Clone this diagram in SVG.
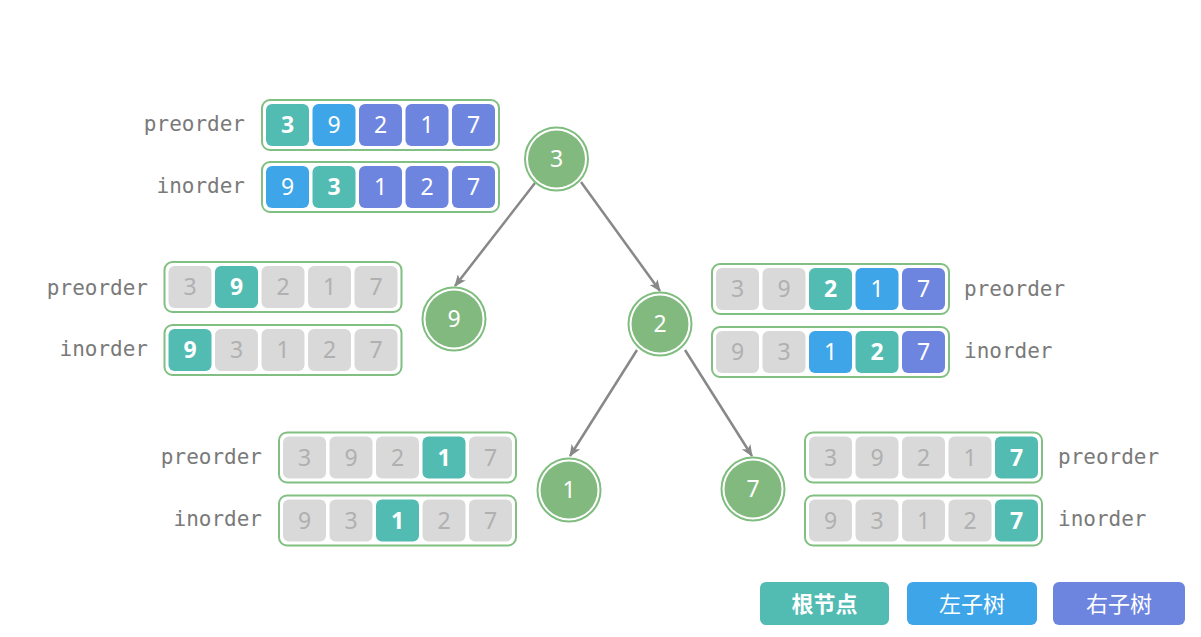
<svg xmlns="http://www.w3.org/2000/svg" width="1201" height="637" viewBox="0 0 1201 637">
<style>
.outer{fill:#fff;stroke:#82bf82;stroke-width:2}
.c{stroke:none}
.r{fill:#52bcb2}.l{fill:#3da5e8}.p{fill:#6d85df}.g{fill:#d9d9d9}
.d{font-family:"Noto Sans","Liberation Sans",sans-serif;font-size:23px;text-anchor:middle;fill:#fff}
.dg{fill:#b0b0b0}
.b{font-weight:bold}
.lab{font-family:"DejaVu Sans Mono","Liberation Mono",monospace;font-size:21px;fill:#7a7a7a}
.ring{fill:#fff;stroke:#7fbd7f;stroke-width:2}
.fill{fill:#82b97f}
.nt{font-family:"Noto Sans","Liberation Sans",sans-serif;font-size:23px;fill:#fff;text-anchor:middle}
.edge{stroke:#888;stroke-width:2.5;fill:none}
.leg{font-family:"Noto Sans CJK SC",sans-serif;font-size:22px;fill:#fff;text-anchor:middle}
</style>
<defs>
<marker id="ah" viewBox="0 0 12 10" refX="11" refY="5" markerWidth="12" markerHeight="10" markerUnits="userSpaceOnUse" orient="auto">
<path d="M0,0 L12,5 L0,10 L3,5 Z" fill="#888"/>
</marker>
</defs>
<rect width="1201" height="637" fill="#fff"/>

<g id="connectors">
<line class="edge" x1="535" y1="183" x2="455" y2="286" marker-end="url(#ah)"/>
<line class="edge" x1="581" y1="182" x2="660" y2="291" marker-end="url(#ah)"/>
<line class="edge" x1="637" y1="350" x2="570" y2="456" marker-end="url(#ah)"/>
<line class="edge" x1="685" y1="350" x2="752" y2="456" marker-end="url(#ah)"/>
</g>

<g id="node-3"><circle class="ring" cx="556.5" cy="159" r="31.5"/><circle class="fill" cx="556.5" cy="159" r="28.5"/><text class="nt" x="556.5" y="167">3</text></g>
<g id="node-9"><circle class="ring" cx="454" cy="319" r="31.5"/><circle class="fill" cx="454" cy="319" r="28.5"/><text class="nt" x="454" y="327">9</text></g>
<g id="node-2"><circle class="ring" cx="660" cy="324" r="31.5"/><circle class="fill" cx="660" cy="324" r="28.5"/><text class="nt" x="660" y="332">2</text></g>
<g id="node-1"><circle class="ring" cx="569" cy="490" r="31.5"/><circle class="fill" cx="569" cy="490" r="28.5"/><text class="nt" x="569" y="498">1</text></g>
<g id="node-7"><circle class="ring" cx="753" cy="489" r="31.5"/><circle class="fill" cx="753" cy="489" r="28.5"/><text class="nt" x="753" y="497">7</text></g>

<!-- Array A -->
<g id="arr-a-pre">
<text class="lab" x="245" y="131" text-anchor="end">preorder</text>
<rect class="outer" x="262" y="100" width="237" height="50" rx="8"/>
<rect class="c r" x="266" y="104" width="43" height="42" rx="6"/><text class="d b" x="287.5" y="133">3</text>
<rect class="c l" x="312.5" y="104" width="43" height="42" rx="6"/><text class="d" x="334" y="133">9</text>
<rect class="c p" x="359" y="104" width="43" height="42" rx="6"/><text class="d" x="380.5" y="133">2</text>
<rect class="c p" x="405.5" y="104" width="43" height="42" rx="6"/><text class="d" x="427" y="133">1</text>
<rect class="c p" x="452" y="104" width="43" height="42" rx="6"/><text class="d" x="473.5" y="133">7</text>
</g>
<g id="arr-a-in">
<text class="lab" x="245" y="193" text-anchor="end">inorder</text>
<rect class="outer" x="262" y="162" width="237" height="50" rx="8"/>
<rect class="c l" x="266" y="166" width="43" height="42" rx="6"/><text class="d" x="287.5" y="195">9</text>
<rect class="c r" x="312.5" y="166" width="43" height="42" rx="6"/><text class="d b" x="334" y="195">3</text>
<rect class="c p" x="359" y="166" width="43" height="42" rx="6"/><text class="d" x="380.5" y="195">1</text>
<rect class="c p" x="405.5" y="166" width="43" height="42" rx="6"/><text class="d" x="427" y="195">2</text>
<rect class="c p" x="452" y="166" width="43" height="42" rx="6"/><text class="d" x="473.5" y="195">7</text>
</g>

<!-- Array B -->
<g id="arr-b-pre">
<text class="lab" x="148" y="295" text-anchor="end">preorder</text>
<rect class="outer" x="164.5" y="262" width="237" height="50" rx="8"/>
<rect class="c g" x="168.5" y="266" width="43" height="42" rx="6"/><text class="d dg" x="190" y="295">3</text>
<rect class="c r" x="215" y="266" width="43" height="42" rx="6"/><text class="d b" x="236.5" y="295">9</text>
<rect class="c g" x="261.5" y="266" width="43" height="42" rx="6"/><text class="d dg" x="283" y="295">2</text>
<rect class="c g" x="308" y="266" width="43" height="42" rx="6"/><text class="d dg" x="329.5" y="295">1</text>
<rect class="c g" x="354.5" y="266" width="43" height="42" rx="6"/><text class="d dg" x="376" y="295">7</text>
</g>
<g id="arr-b-in">
<text class="lab" x="148" y="356" text-anchor="end">inorder</text>
<rect class="outer" x="164.5" y="325" width="237" height="50" rx="8"/>
<rect class="c r" x="168.5" y="329" width="43" height="42" rx="6"/><text class="d b" x="190" y="358">9</text>
<rect class="c g" x="215" y="329" width="43" height="42" rx="6"/><text class="d dg" x="236.5" y="358">3</text>
<rect class="c g" x="261.5" y="329" width="43" height="42" rx="6"/><text class="d dg" x="283" y="358">1</text>
<rect class="c g" x="308" y="329" width="43" height="42" rx="6"/><text class="d dg" x="329.5" y="358">2</text>
<rect class="c g" x="354.5" y="329" width="43" height="42" rx="6"/><text class="d dg" x="376" y="358">7</text>
</g>

<!-- Array C -->
<g id="arr-c-pre">
<text class="lab" x="964" y="296">preorder</text>
<rect class="outer" x="712" y="264" width="237" height="50" rx="8"/>
<rect class="c g" x="716" y="268" width="43" height="42" rx="6"/><text class="d dg" x="737.5" y="297">3</text>
<rect class="c g" x="762.5" y="268" width="43" height="42" rx="6"/><text class="d dg" x="784" y="297">9</text>
<rect class="c r" x="809" y="268" width="43" height="42" rx="6"/><text class="d b" x="830.5" y="297">2</text>
<rect class="c l" x="855.5" y="268" width="43" height="42" rx="6"/><text class="d" x="877" y="297">1</text>
<rect class="c p" x="902" y="268" width="43" height="42" rx="6"/><text class="d" x="923.5" y="297">7</text>
</g>
<g id="arr-c-in">
<text class="lab" x="964" y="358">inorder</text>
<rect class="outer" x="712" y="327" width="237" height="50" rx="8"/>
<rect class="c g" x="716" y="331" width="43" height="42" rx="6"/><text class="d dg" x="737.5" y="360">9</text>
<rect class="c g" x="762.5" y="331" width="43" height="42" rx="6"/><text class="d dg" x="784" y="360">3</text>
<rect class="c l" x="809" y="331" width="43" height="42" rx="6"/><text class="d" x="830.5" y="360">1</text>
<rect class="c r" x="855.5" y="331" width="43" height="42" rx="6"/><text class="d b" x="877" y="360">2</text>
<rect class="c p" x="902" y="331" width="43" height="42" rx="6"/><text class="d" x="923.5" y="360">7</text>
</g>

<!-- Array D -->
<g id="arr-d-pre">
<text class="lab" x="262" y="464" text-anchor="end">preorder</text>
<rect class="outer" x="279" y="432.5" width="237" height="50" rx="8"/>
<rect class="c g" x="283" y="436.5" width="43" height="42" rx="6"/><text class="d dg" x="304.5" y="465.5">3</text>
<rect class="c g" x="329.5" y="436.5" width="43" height="42" rx="6"/><text class="d dg" x="351" y="465.5">9</text>
<rect class="c g" x="376" y="436.5" width="43" height="42" rx="6"/><text class="d dg" x="397.5" y="465.5">2</text>
<rect class="c r" x="422.5" y="436.5" width="43" height="42" rx="6"/><text class="d b" x="444" y="465.5">1</text>
<rect class="c g" x="469" y="436.5" width="43" height="42" rx="6"/><text class="d dg" x="490.5" y="465.5">7</text>
</g>
<g id="arr-d-in">
<text class="lab" x="262" y="526" text-anchor="end">inorder</text>
<rect class="outer" x="279" y="495.5" width="237" height="50" rx="8"/>
<rect class="c g" x="283" y="499.5" width="43" height="42" rx="6"/><text class="d dg" x="304.5" y="528.5">9</text>
<rect class="c g" x="329.5" y="499.5" width="43" height="42" rx="6"/><text class="d dg" x="351" y="528.5">3</text>
<rect class="c r" x="376" y="499.5" width="43" height="42" rx="6"/><text class="d b" x="397.5" y="528.5">1</text>
<rect class="c g" x="422.5" y="499.5" width="43" height="42" rx="6"/><text class="d dg" x="444" y="528.5">2</text>
<rect class="c g" x="469" y="499.5" width="43" height="42" rx="6"/><text class="d dg" x="490.5" y="528.5">7</text>
</g>

<!-- Array E -->
<g id="arr-e-pre">
<text class="lab" x="1058" y="464">preorder</text>
<rect class="outer" x="805" y="432.5" width="237" height="50" rx="8"/>
<rect class="c g" x="809" y="436.5" width="43" height="42" rx="6"/><text class="d dg" x="830.5" y="465.5">3</text>
<rect class="c g" x="855.5" y="436.5" width="43" height="42" rx="6"/><text class="d dg" x="877" y="465.5">9</text>
<rect class="c g" x="902" y="436.5" width="43" height="42" rx="6"/><text class="d dg" x="923.5" y="465.5">2</text>
<rect class="c g" x="948.5" y="436.5" width="43" height="42" rx="6"/><text class="d dg" x="970" y="465.5">1</text>
<rect class="c r" x="995" y="436.5" width="43" height="42" rx="6"/><text class="d b" x="1016.5" y="465.5">7</text>
</g>
<g id="arr-e-in">
<text class="lab" x="1058" y="526">inorder</text>
<rect class="outer" x="805" y="495.5" width="237" height="50" rx="8"/>
<rect class="c g" x="809" y="499.5" width="43" height="42" rx="6"/><text class="d dg" x="830.5" y="528.5">9</text>
<rect class="c g" x="855.5" y="499.5" width="43" height="42" rx="6"/><text class="d dg" x="877" y="528.5">3</text>
<rect class="c g" x="902" y="499.5" width="43" height="42" rx="6"/><text class="d dg" x="923.5" y="528.5">1</text>
<rect class="c g" x="948.5" y="499.5" width="43" height="42" rx="6"/><text class="d dg" x="970" y="528.5">2</text>
<rect class="c r" x="995" y="499.5" width="43" height="42" rx="6"/><text class="d b" x="1016.5" y="528.5">7</text>
</g>

<!-- Legend -->
<g id="legend-root"><rect class="r" x="760" y="582" width="129" height="43" rx="6"/><text class="leg" x="824.5" y="612" font-weight="bold">根节点</text></g>
<g id="legend-left"><rect class="l" x="907" y="582" width="130" height="43" rx="6"/><text class="leg" x="972" y="612">左子树</text></g>
<g id="legend-right"><rect class="p" x="1053" y="582" width="132" height="43" rx="6"/><text class="leg" x="1119" y="612">右子树</text></g>
</svg>
